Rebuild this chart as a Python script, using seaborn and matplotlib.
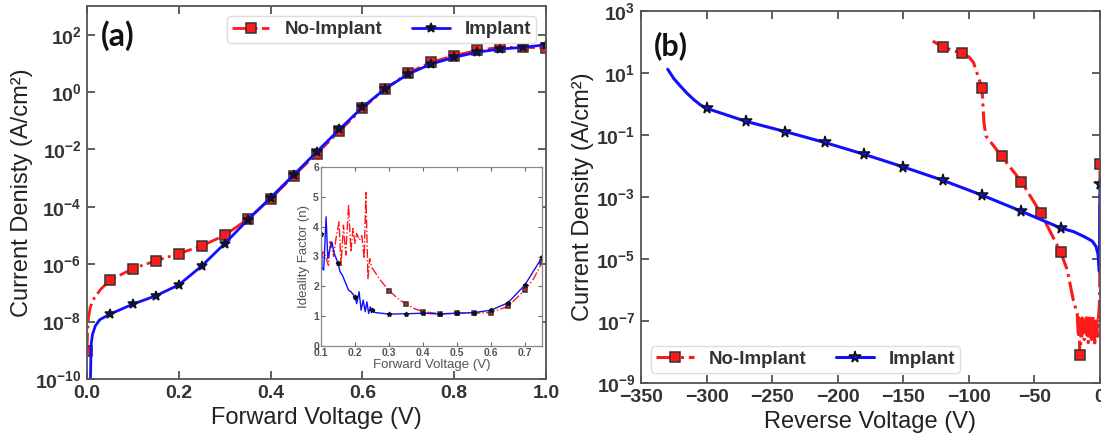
import numpy as np
import pandas as pd
import matplotlib
matplotlib.use("Agg")
import matplotlib.pyplot as plt
import seaborn as sns
from matplotlib.ticker import FixedLocator, FuncFormatter, NullLocator

# ---- (a) forward J-V, values are log10(J) ----
fwd_v_noimp = [0.0, 0.001, 0.003, 0.007, 0.015, 0.03, 0.05, 0.10, 0.15, 0.20, 0.25,
               0.30, 0.35, 0.40, 0.45, 0.50, 0.55, 0.60, 0.65, 0.70, 0.75, 0.80,
               0.85, 0.90, 0.95, 1.00]
fwd_logj_noimp = [-9.01, -8.5, -7.9, -7.5, -7.2, -6.87, -6.56, -6.15, -5.88, -5.63, -5.36,
                  -4.99, -4.43, -3.72, -2.93, -2.15, -1.36, -0.57, 0.11, 0.67, 1.04, 1.27,
                  1.455, 1.56, 1.56, 1.54]

fwd_v_imp = [0.007, 0.008, 0.009, 0.012, 0.018, 0.028, 0.05, 0.10, 0.15, 0.20, 0.25,
             0.30, 0.35, 0.40, 0.45, 0.50, 0.55, 0.60, 0.65, 0.70, 0.75, 0.80,
             0.85, 0.90, 0.95, 1.00]
fwd_logj_imp = [-10.5, -9.6, -8.8, -8.45, -8.15, -7.93, -7.74, -7.39, -7.10, -6.72, -6.06,
                -5.28, -4.46, -3.68, -2.89, -2.09, -1.30, -0.53, 0.12, 0.63, 0.98, 1.21,
                1.39, 1.50, 1.56, 1.65]

# ---- inset: ideality factor ----
n_v_noimp = [0.100, 0.106, 0.112, 0.122, 0.127, 0.137, 0.144, 0.153, 0.159, 0.166, 0.173,
             0.181, 0.188, 0.194, 0.200, 0.205, 0.213, 0.220, 0.227, 0.232, 0.238, 0.243,
             0.250, 0.275, 0.300, 0.325, 0.350, 0.375, 0.400, 0.450, 0.500, 0.550,
             0.600, 0.650, 0.700, 0.725, 0.750]
n_noimp = [2.90, 3.15, 3.05, 2.70, 3.50, 3.00, 3.60, 4.16, 2.70, 4.05, 3.05,
           4.74, 3.15, 3.94, 3.44, 3.77, 3.55, 3.70, 2.93, 5.15, 2.26, 2.93,
           2.62, 2.20, 1.86, 1.60, 1.40, 1.25, 1.15, 1.08, 1.10, 1.10,
           1.12, 1.33, 1.88, 2.25, 2.80]

n_v_imp = [0.100, 0.103, 0.108, 0.115, 0.120, 0.127, 0.132, 0.139, 0.150, 0.156, 0.163,
           0.171, 0.181, 0.188, 0.200, 0.205, 0.212, 0.218, 0.224, 0.230, 0.235, 0.240,
           0.245, 0.250, 0.260, 0.300, 0.350, 0.400, 0.450, 0.500, 0.550, 0.600,
           0.650, 0.700, 0.750]
n_imp = [3.77, 2.60, 2.55, 4.33, 2.93, 3.30, 3.49, 3.10, 2.78, 2.49, 2.37,
         2.15, 1.87, 1.82, 1.65, 1.42, 1.82, 1.20, 1.54, 1.15, 1.48, 1.09,
         1.31, 1.20, 1.12, 1.07, 1.08, 1.10, 1.07, 1.10, 1.12, 1.20,
         1.45, 2.05, 2.97]

# ---- (b) reverse J-V ----
rev_v_noimp = [-127.5, -120, -105, -100, -96.5, -92.6, -90, -89.3, -88.5, -87, -82, -75,
               -60, -45, -30, -25, -20.4, -17.4, -16.5, -16, -15.5, -15, -14.5, -14,
               -13.5, -13, -12.5, -12, -11.5, -11, -10.5, -10, -9.5, -9, -8.5, -8,
               -7.5, -7, -6.5, -6, -5.5, -5, -4.5, -4, -3.5, -3, -2.5, -2, -1.5, -1,
               -0.5, -0.2, 0]
rev_logj_noimp = [2.03, 1.84, 1.63, 1.52, 1.34, 0.85, 0.52, 0.0, -0.6, -1.03, -1.3, -1.69,
                  -2.5, -3.53, -4.78, -5.35, -6.32, -6.75, -7.5, -6.9, -7.9, -8.1, -7.2, -7.6,
                  -6.9, -7.4, -7.0, -7.6, -7.1, -7.3, -6.8, -7.5, -7.0, -7.7, -7.2, -6.9,
                  -7.5, -7.0, -7.6, -7.2, -6.8, -7.4, -7.0, -7.8, -7.1, -7.3, -6.9, -7.5,
                  -7.0, -6.8, -6.5, -6.0, -1.95]

rev_v_imp = [-329.6, -325, -320, -315, -310, -305, -300, -270, -240, -210, -180, -150,
             -120, -90, -60, -30, -20, -12, -6, -3, -1.5, -0.5, 0]
rev_logj_imp = [1.12, 0.82, 0.58, 0.35, 0.15, -0.02, -0.14, -0.56, -0.89, -1.24, -1.62,
                -2.03, -2.46, -2.94, -3.46, -4.00, -4.12, -4.28, -4.42, -4.60, -4.85,
                -5.40, -2.59]

labels = ["No-Implant", "Implant"]
fwd_xticks = [0.0, 0.2, 0.4, 0.6, 0.8, 1.0]
fwd_yticks = [-10, -8, -6, -4, -2, 0, 2]
rev_xticks = [-350, -300, -250, -200, -150, -100, -50, 0]
rev_yticks = [-9, -7, -5, -3, -1, 1, 3]
inset_xticks = [0.1, 0.2, 0.3, 0.4, 0.5, 0.6, 0.7]
inset_yticks = [0, 1, 2, 3, 4, 5, 6]

sns.set_theme(style="ticks")
plt.rcParams['font.family'] = ['Liberation Sans', 'DejaVu Sans']
plt.rcParams['mathtext.fontset'] = 'custom'
plt.rcParams['mathtext.rm'] = 'Liberation Sans:bold'
plt.rcParams['mathtext.bf'] = 'Liberation Sans:bold'
plt.rcParams['mathtext.it'] = 'Liberation Sans:bold'
plt.rcParams['mathtext.sf'] = 'Liberation Sans:bold'

RED = '#ff1a1a'
BLUE = '#1010ff'


def marks(v, step):
    # indices of the points that carry a marker (every `step` volts)
    return [i for i, x in enumerate(v) if abs(x / step - round(x / step)) < 1e-6]


def draw(ax, v, y, color, ls, lw, marker, ms, mfc, mec, every, label=None, logy=True):
    df = pd.DataFrame({'V': v, 'Y': np.power(10.0, y) if logy else y})
    sns.lineplot(data=df, x='V', y='Y', ax=ax, color=color, linestyle=ls, lw=lw,
                 marker=marker, markersize=ms, markerfacecolor=mfc, markeredgecolor=mec,
                 markeredgewidth=1.1, markevery=every, label=label, sort=False,
                 estimator=None, legend=False)


def style_log_axes(ax, xticks, yticks, xfmt):
    ax.set_yscale('log')
    ax.yaxis.set_major_locator(FixedLocator([10.0 ** e for e in yticks]))
    ax.yaxis.set_minor_locator(NullLocator())
    ax.yaxis.set_major_formatter(FuncFormatter(lambda v, p: r'$\mathbf{10^{%d}}$' % round(np.log10(v))))
    ax.xaxis.set_major_locator(FixedLocator(xticks))
    ax.xaxis.set_major_formatter(xfmt)
    ax.tick_params(direction='in', length=6, width=1.2, color='#444', top=True, right=True,
                   labelsize=14, labelcolor='#333', pad=4)
    for t in ax.get_xticklabels():
        t.set_fontweight('bold')
    for s in ax.spines.values():
        s.set_color('#555')
        s.set_linewidth(1.3)


fig = plt.figure(figsize=(11.01, 4.38), dpi=100)
ax_a = fig.add_axes([87 / 1101, 59 / 438, 459 / 1101, 373 / 438])
ax_b = fig.add_axes([641 / 1101, 55 / 438, 459 / 1101, 372 / 438])

# ---- panel (a) ----
draw(ax_a, fwd_v_noimp, fwd_logj_noimp, RED, '-.', 2.0, 's', 7.5, RED, '#333',
     marks(fwd_v_noimp, 0.05), labels[0])
draw(ax_a, fwd_v_imp, fwd_logj_imp, BLUE, '-', 2.0, '*', 7.5, '#101030', '#101030',
     marks(fwd_v_imp, 0.05), labels[1])
style_log_axes(ax_a, fwd_xticks, fwd_yticks, FuncFormatter(lambda v, p: '%.1f' % v))
ax_a.set_xlim(0, 1.0)
ax_a.set_ylim(1e-10, 1e3)
ax_a.set_xlabel('Forward Voltage (V)', fontsize=17, color='#222', labelpad=4)
ax_a.set_ylabel('Current Denisty (A/cm²)', fontsize=17, color='#222')
ax_a.yaxis.set_label_coords(-0.118, 0.5)
ax_a.text(0.03, 0.962, '(a)', transform=ax_a.transAxes, fontsize=23, fontweight='bold',
          family=['Lato', 'DejaVu Sans'], va='top', ha='left', color='#111')
ax_a.legend(loc='upper right', ncol=2, prop={'weight': 'bold', 'size': 13.5},
            handlelength=2.0, columnspacing=1.6, handletextpad=0.8, borderaxespad=0.55,
            borderpad=0.25, frameon=True, edgecolor='#dddddd', framealpha=1, fancybox=True,
            labelcolor='#333')

# ---- inset ----
ax_in = fig.add_axes([321 / 1101, 92 / 438, 221 / 1101, 179 / 438], facecolor='white')
ax_in.set_zorder(5)
draw(ax_in, n_v_noimp, n_noimp, RED, '-.', 1.0, 's', 3.5, RED, '#333',
     marks(n_v_noimp, 0.05)[3:], logy=False)
draw(ax_in, n_v_imp, n_imp, BLUE, '-', 1.0, '*', 3.5, '#111', '#111',
     marks(n_v_imp, 0.05), logy=False)
ax_in.set_xlim(0.1, 0.75)
ax_in.set_ylim(0, 6)
ax_in.xaxis.set_major_locator(FixedLocator(inset_xticks))
ax_in.xaxis.set_major_formatter(FuncFormatter(lambda v, p: '%.1f' % v))
ax_in.yaxis.set_major_locator(FixedLocator(inset_yticks))
ax_in.tick_params(direction='in', length=3, width=0.8, color='#666', top=True, right=True,
                  labelsize=7.5, labelcolor='#555', pad=1.5)
for t in ax_in.get_xticklabels() + ax_in.get_yticklabels():
    t.set_fontweight('bold')
for s in ax_in.spines.values():
    s.set_color('#888')
    s.set_linewidth(0.9)
ax_in.set_xlabel('Forward Voltage (V)', fontsize=9.5, color='#555', labelpad=1)
ax_in.set_ylabel('Ideality Factor (n)', fontsize=9.5, color='#555', labelpad=2)

# ---- panel (b) ----
draw(ax_b, rev_v_noimp, rev_logj_noimp, RED, '-.', 2.2, 's', 7.5, RED, '#333',
     marks(rev_v_noimp, 15), labels[0])
draw(ax_b, rev_v_imp, rev_logj_imp, BLUE, '-', 2.2, '*', 8.5, BLUE, '#111',
     marks(rev_v_imp, 30), labels[1])
style_log_axes(ax_b, rev_xticks, rev_yticks, matplotlib.ticker.ScalarFormatter())
ax_b.set_xlim(-350, 0)
ax_b.set_ylim(1e-9, 1e3)
ax_b.set_xlabel('Reverse Voltage (V)', fontsize=17, color='#222', labelpad=4)
ax_b.set_ylabel('Current Density (A/cm²)', fontsize=17, color='#222')
ax_b.yaxis.set_label_coords(-0.102, 0.5)
ax_b.text(0.028, 0.945, '(b)', transform=ax_b.transAxes, fontsize=22, fontweight='bold',
          family=['Lato', 'DejaVu Sans'], va='top', ha='left', color='#111')
ax_b.legend(loc='lower left', ncol=2, prop={'weight': 'bold', 'size': 13.5},
            handlelength=2.0, columnspacing=1.6, handletextpad=0.8, borderaxespad=0.55,
            borderpad=0.25, frameon=True, edgecolor='#dddddd', framealpha=1, fancybox=True,
            labelcolor='#333')

fig.savefig('out.png', dpi=100)
